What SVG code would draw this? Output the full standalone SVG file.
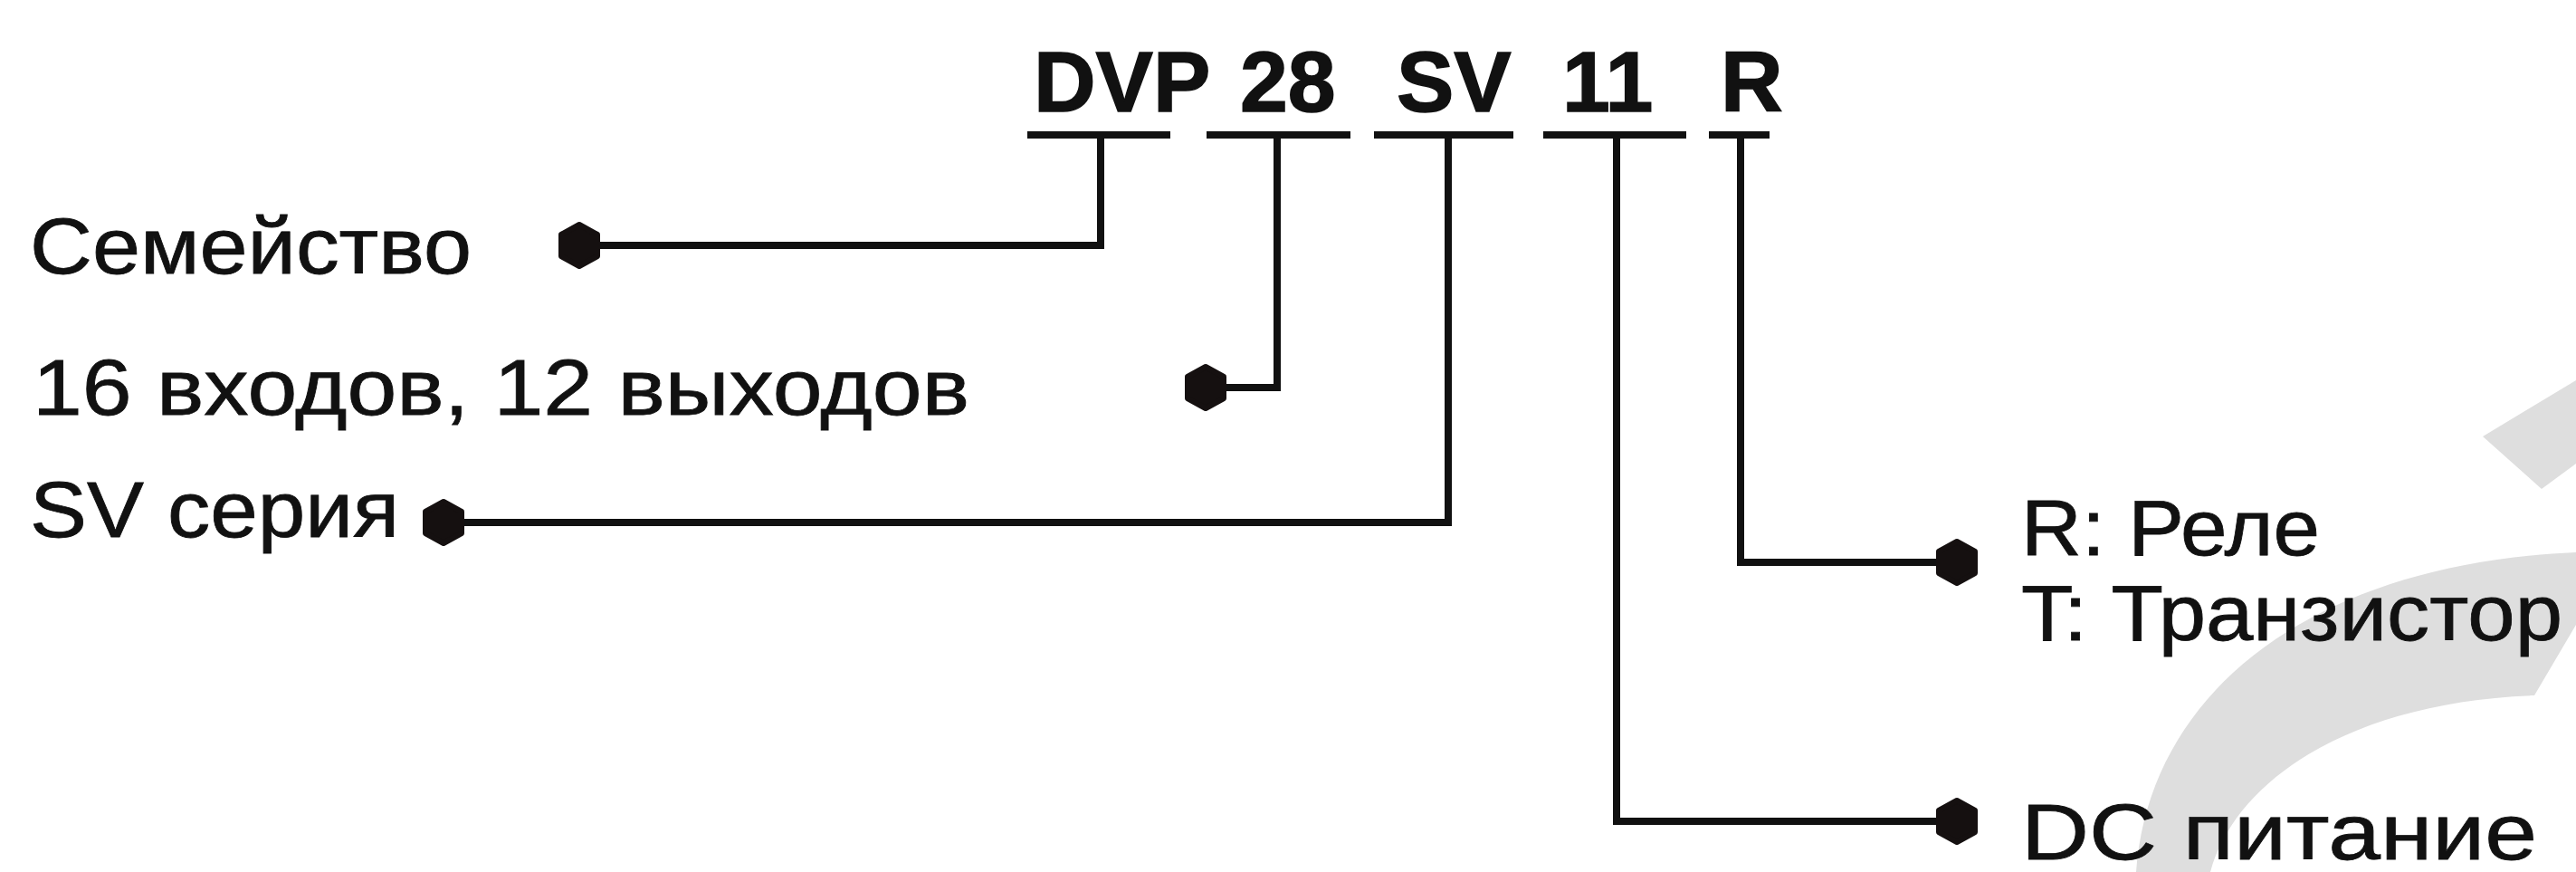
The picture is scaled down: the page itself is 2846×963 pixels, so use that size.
<svg xmlns="http://www.w3.org/2000/svg" width="2846" height="963" viewBox="0 0 2846 963">
  <style>
    .lbl { font-family: "Liberation Sans", Arial, sans-serif; font-size: 87px; fill: #111; stroke: #111; stroke-width: 0.8; }
    .code { font-family: "Liberation Sans", Arial, sans-serif; font-size: 95px; font-weight: bold; fill: #111; stroke: #111; stroke-width: 1.5; }
    .ul { stroke: #111; stroke-width: 8; fill: none; }
    .wire { stroke: #111; stroke-width: 8; fill: none; stroke-linejoin: miter; }
    .wm { fill: #dedede; }
  </style>
  <defs>
    <marker id="dot" markerUnits="userSpaceOnUse" markerWidth="56" markerHeight="56" refX="28" refY="28" orient="0" viewBox="0 0 56 56">
      <polygon points="28,5 48,16 48,40 28,51 8,40 8,16" fill="#151010" stroke="#151010" stroke-width="6" stroke-linejoin="round"/>
    </marker>
  </defs>
  <rect width="2846" height="963" fill="#ffffff"/>

  <g id="watermark">
    <path class="wm" d="M2360 963 C2375 760 2560 622 2846 610 L2846 690 L2800 768 C2600 775 2470 860 2442 963 Z"/>
    <polygon class="wm" points="2743,482 2846,420 2846,512 2808,540"/>
  </g>

  <g id="code">
    <g id="code-dvp"><text class="code" x="1142" y="123">DVP</text><line class="ul" x1="1135" y1="149" x2="1293" y2="149"/></g>
    <g id="code-28"><text class="code" x="1370" y="123">28</text><line class="ul" x1="1333" y1="149" x2="1492" y2="149"/></g>
    <g id="code-sv"><text class="code" x="1543" y="123">SV</text><line class="ul" x1="1518" y1="149" x2="1672" y2="149"/></g>
    <g id="code-11"><text class="code" x="1726" y="123">11</text><line class="ul" x1="1705" y1="149" x2="1863" y2="149"/></g>
    <g id="code-r"><text class="code" x="1901" y="123">R</text><line class="ul" x1="1888" y1="149" x2="1955" y2="149"/></g>
  </g>

  <g id="connectors">
    <path class="wire" marker-start="url(#dot)" d="M640 271 H1216 V149"/>
    <path class="wire" marker-start="url(#dot)" d="M1332 428 H1411 V149"/>
    <path class="wire" marker-start="url(#dot)" d="M490 577 H1600 V149"/>
    <path class="wire" marker-start="url(#dot)" d="M2162 621 H1923 V149"/>
    <path class="wire" marker-start="url(#dot)" d="M2162 907 H1786 V149"/>
  </g>

  <g id="label-family"><text class="lbl" x="33" y="302" textLength="488" lengthAdjust="spacingAndGlyphs">Семейство</text></g>
  <g id="label-io"><text class="lbl" x="36" y="458" textLength="1035" lengthAdjust="spacingAndGlyphs">16 входов, 12 выходов</text></g>
  <g id="label-series"><text class="lbl" x="33" y="593" textLength="408" lengthAdjust="spacingAndGlyphs">SV серия</text></g>
  <g id="label-output">
    <text class="lbl" x="2233" y="613" textLength="330" lengthAdjust="spacingAndGlyphs">R: Реле</text>
    <text class="lbl" x="2233" y="707" textLength="598" lengthAdjust="spacingAndGlyphs">T: Транзистор</text>
  </g>
  <g id="label-power"><text class="lbl" x="2233" y="949" textLength="570" lengthAdjust="spacingAndGlyphs">DC питание</text></g>
</svg>
